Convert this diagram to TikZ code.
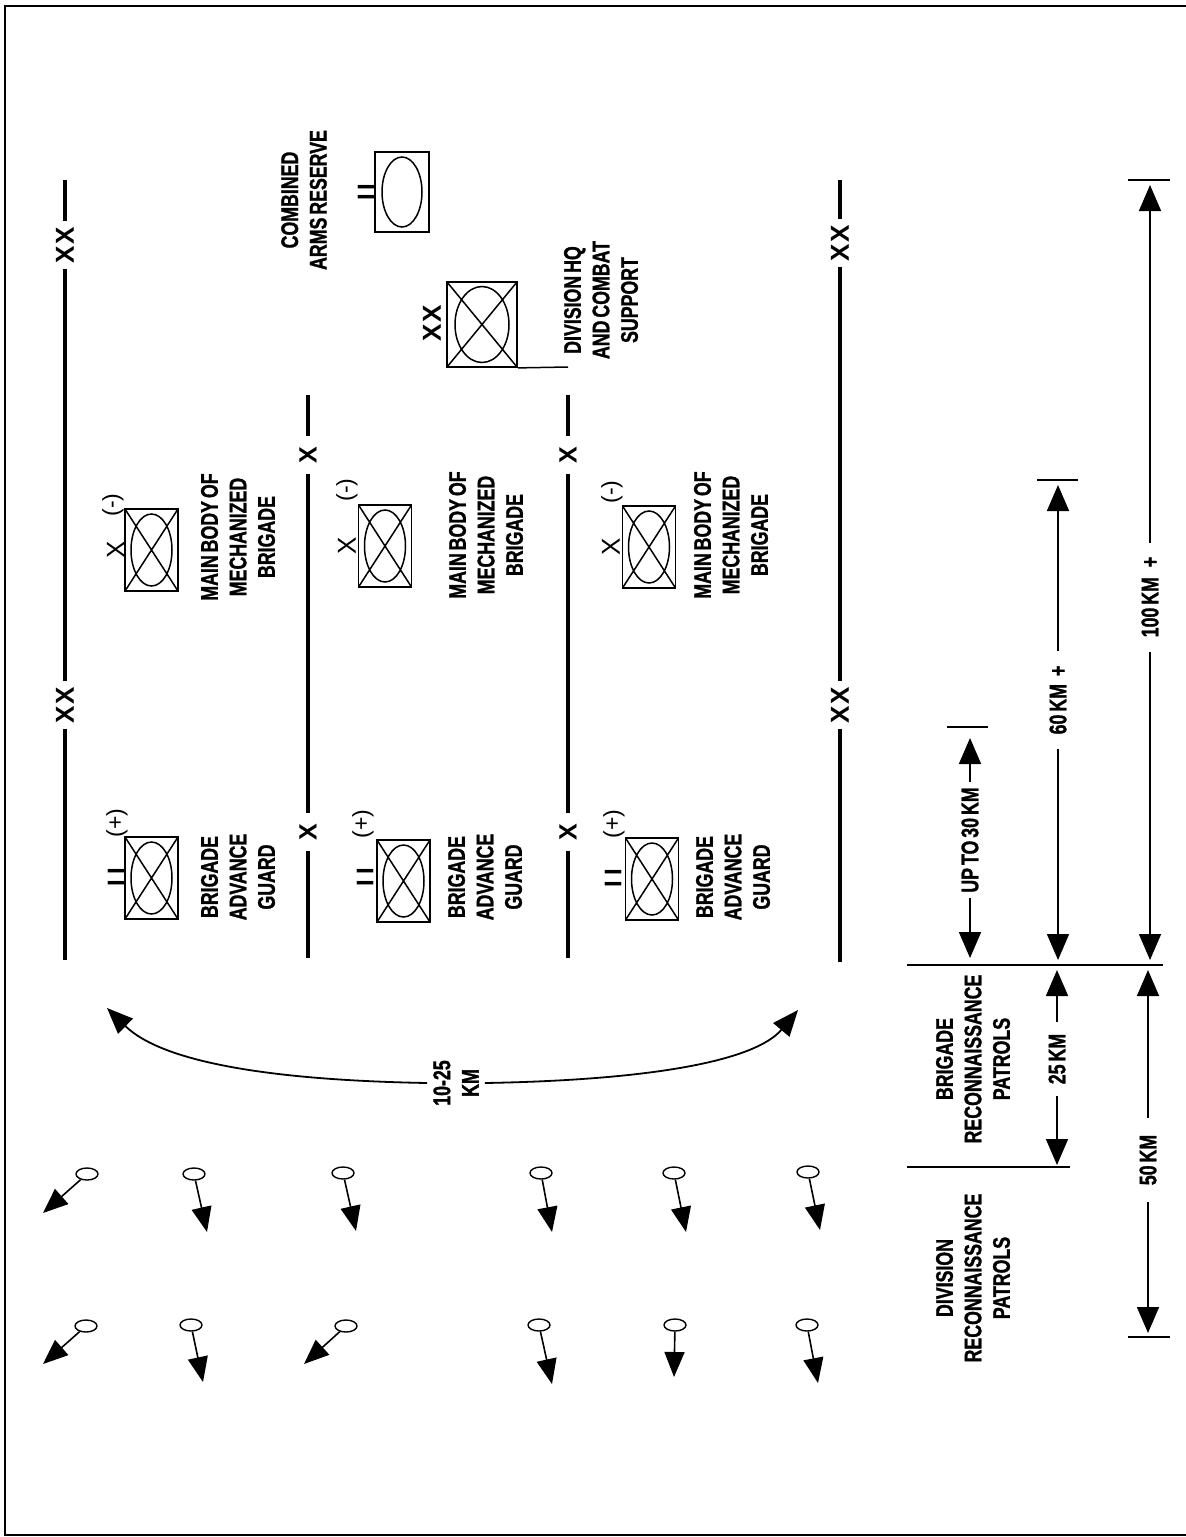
\documentclass[tikz,border=0pt]{standalone}
\usepackage{fontspec}
\setmainfont{Liberation Sans}
\newfontfamily\lbl[FakeStretch=0.74,WordSpace=0.6,FakeBold=1.2]{Liberation Sans}
\usetikzlibrary{arrows.meta,shapes.geometric}
\begin{document}
\begin{tikzpicture}[x=1pt,y=-1pt,
  lab/.style={font=\lbl\bfseries\fontsize{24}{28.5}\selectfont, align=center, rotate=90, inner sep=0pt},
  bnd/.style={font=\bfseries\fontsize{26}{26}\selectfont, rotate=90, inner sep=5pt},
  bndx/.style={font=\bfseries\fontsize{25}{25}\selectfont, rotate=90, inner sep=10pt},
  bline/.style={line width=3.2pt},
  ech/.style={font=\fontsize{26}{26}\selectfont, rotate=90, inner sep=0pt},
  echb/.style={font=\bfseries\fontsize{24}{24}\selectfont, rotate=90, inner sep=0pt},
  sgn/.style={font=\fontsize{23}{23}\selectfont, rotate=90, inner sep=0pt},
  mech/.style={draw, line width=1.8pt, minimum width=53pt, minimum height=82pt, inner sep=0pt,
    path picture={\draw[line width=1.5pt]
      (path picture bounding box.north west) -- (path picture bounding box.south east)
      (path picture bounding box.south west) -- (path picture bounding box.north east)
      (path picture bounding box.center) ellipse [x radius=20.5pt, y radius=36pt];}},
  hq/.style={draw, line width=1.8pt, minimum width=70pt, minimum height=85pt, inner sep=0pt,
    path picture={\draw[line width=1.5pt]
      (path picture bounding box.north west) -- (path picture bounding box.south east)
      (path picture bounding box.south west) -- (path picture bounding box.north east)
      (path picture bounding box.center) ellipse [x radius=27pt, y radius=38pt];}},
  res/.style={draw, line width=1.8pt, minimum width=54pt, minimum height=80pt, inner sep=0pt,
    path picture={\draw[line width=1.5pt]
      (path picture bounding box.center) ellipse [x radius=20pt, y radius=35pt];}},
  patrol/.style={draw, ellipse, line width=1.4pt, minimum width=22pt, minimum height=12pt, inner sep=0pt},
  patarrow/.style={line width=1.6pt, -{Triangle[length=25pt,width=20pt]}},
  bigarrow/.style={line width=1.8pt, -{Triangle[length=26pt,width=21pt]}},
  dimarrow/.style={line width=1.6pt, -{Triangle[length=26pt,width=22pt]}},
  tickline/.style={line width=2.4pt}
]
\useasboundingbox (0,0) rectangle (1186,1537);
\draw[line width=1.6pt] (1192,6) -- (5,6) -- (5,1535) -- (1192,1535);

% ---- division boundaries
\coordinate (dA0) at (65,180);
\node[bnd] (dA1) at (65,245) {X\kern2pt X};
\node[bnd] (dA2) at (65,705) {X\kern2pt X};
\coordinate (dA3) at (65,960);
\draw[bline] (dA0) -- (dA1) (dA1) -- (dA2) (dA2) -- (dA3);

\coordinate (dB0) at (840,180);
\node[bnd] (dB1) at (840,243) {X\kern2pt X};
\node[bnd] (dB2) at (840,705) {X\kern2pt X};
\coordinate (dB3) at (840,962);
\draw[bline] (dB0) -- (dB1) (dB1) -- (dB2) (dB2) -- (dB3);

% ---- brigade boundaries
\coordinate (bA0) at (308,395);
\node[bndx] (bA1) at (308,455) {X};
\node[bndx] (bA2) at (308,832) {X};
\coordinate (bA3) at (308,958);
\draw[bline] (bA0) -- (bA1) (bA1) -- (bA2) (bA2) -- (bA3);

\coordinate (bB0) at (568,395);
\node[bndx] (bB1) at (568,455) {X};
\node[bndx] (bB2) at (568,832) {X};
\coordinate (bB3) at (568,958);
\draw[bline] (bB0) -- (bB1) (bB1) -- (bB2) (bB2) -- (bB3);

% ---- combined arms reserve
\node[res] (car) at (402,192) {};
\node[echb] (care) at (366,192) {I\kern4pt I};
\node[lab] (carl) at (304,200) {COMBINED\\ARMS RESERVE};

% ---- division HQ
\node[hq] (dhq) at (482,324.5) {};
\node[echb, font=\bfseries\fontsize{26}{26}\selectfont] (dhqe) at (432,323) {X\kern2pt X};
\coordinate (dhqf) at (568,367);
\draw[line width=1.5pt] (dhq.south east) -- (dhqf);
\node[lab] (dhql) at (601,300) {DIVISION HQ\\AND COMBAT\\SUPPORT};

% ---- brigade 1
\node[mech] (mb1) at (151.5,550) {};
\node[ech] (mb1e) at (116,550) {X};
\node[sgn] (mb1s) at (113,505) {(-)};
\node[lab] (mb1l) at (238,537) {MAIN BODY OF\\MECHANIZED\\BRIGADE};
\node[mech] (ag1) at (151.5,878) {};
\node[echb] (ag1e) at (116,877) {I\kern5pt I};
\node[sgn] (ag1s) at (117,823) {(+)};
\node[lab] (ag1l) at (238,877) {BRIGADE\\ADVANCE\\GUARD};

% ---- brigade 2
\node[mech] (mb2) at (385,546) {};
\node[ech] (mb2e) at (347,546) {X};
\node[sgn] (mb2s) at (347,490) {(-)};
\node[lab] (mb2l) at (486,535) {MAIN BODY OF\\MECHANIZED\\BRIGADE};
\node[mech] (ag2) at (403.5,881) {};
\node[echb] (ag2e) at (365,877) {I\kern5pt I};
\node[sgn] (ag2s) at (363,824) {(+)};
\node[lab] (ag2l) at (485,877) {BRIGADE\\ADVANCE\\GUARD};

% ---- brigade 3
\node[mech] (mb3) at (649,547) {};
\node[ech] (mb3e) at (611,547) {X};
\node[sgn] (mb3s) at (612,492) {(-)};
\node[lab] (mb3l) at (731,535) {MAIN BODY OF\\MECHANIZED\\BRIGADE};
\node[mech] (ag3) at (652,879) {};
\node[echb] (ag3e) at (613,878) {I\kern5pt I};
\node[sgn] (ag3s) at (614,824) {(+)};
\node[lab] (ag3l) at (733,877) {BRIGADE\\ADVANCE\\GUARD};

% ---- frontage arrow
\node[lab, inner sep=6pt] (rng) at (456,1083) {10-25\\KM};
\coordinate (rngL) at (107,1008);
\coordinate (rngR) at (798,1010);
\draw[bigarrow] (rng.north) .. controls (260,1080) and (160,1060) .. (rngL);
\draw[bigarrow] (rng.south) .. controls (656,1080) and (756,1060) .. (rngR);

% ---- patrols
\foreach \n/\ex/\ey/\tx/\ty in {
  p1/87/1174/43/1213, p2/194/1174/207/1232, p3/343/1173/356/1231,
  p4/541/1173/552/1232, p5/674/1173/686/1232, p6/808/1172/820/1230,
  p7/86/1326/43/1364, p8/191/1325/203/1382, p9/346/1326/304/1364,
  p10/539/1325/552/1384, p11/675/1325/674/1377, p12/807/1325/818/1383}{
  \node[patrol] (\n) at (\ex,\ey) {};
  \coordinate (\n t) at (\tx,\ty);
  \draw[patarrow] (\n) -- (\n t);
}

% ---- scale lines
\coordinate (h1a) at (907,965); \coordinate (h1b) at (1163,965);
\coordinate (h2a) at (907,1167); \coordinate (h2b) at (1070,1167);
\coordinate (h3a) at (1128,1337); \coordinate (h3b) at (1170,1337);
\coordinate (h4a) at (1037,480); \coordinate (h4b) at (1078,480);
\coordinate (h5a) at (947,727); \coordinate (h5b) at (988,727);
\coordinate (h6a) at (1128,180); \coordinate (h6b) at (1170,180);
\draw[tickline] (h1a) -- (h1b);
\draw[tickline] (h2a) -- (h2b);
\draw[tickline] (h3a) -- (h3b);
\draw[tickline] (h4a) -- (h4b);
\draw[tickline] (h5a) -- (h5b);
\draw[tickline] (h6a) -- (h6b);

\node[lab] (brp) at (973,1059) {BRIGADE\\RECONNAISSANCE\\PATROLS};
\node[lab] (drp) at (973,1278) {DIVISION\\RECONNAISSANCE\\PATROLS};

% ---- dimension arrows
\node[lab, inner xsep=5pt] (d30) at (970,840) {UP TO 30 KM};
\coordinate (d30a) at (970,738); \coordinate (d30b) at (970,958);
\draw[dimarrow] (d30) -- (d30a); \draw[dimarrow] (d30) -- (d30b);

\node[lab, inner xsep=14pt] (d60) at (1058,700) {60 KM\hspace{8pt}+};
\coordinate (d60a) at (1058,485); \coordinate (d60b) at (1058,960);
\draw[dimarrow] (d60) -- (d60a); \draw[dimarrow] (d60) -- (d60b);

\node[lab, inner xsep=14pt] (d100) at (1150,597) {100 KM\hspace{10pt}+};
\coordinate (d100a) at (1150,185); \coordinate (d100b) at (1150,960);
\draw[dimarrow] (d100) -- (d100a); \draw[dimarrow] (d100) -- (d100b);

\node[lab, inner xsep=12pt] (d25) at (1057,1059) {25 KM};
\coordinate (d25a) at (1057,970); \coordinate (d25b) at (1057,1165);
\draw[dimarrow] (d25) -- (d25a); \draw[dimarrow] (d25) -- (d25b);

\node[lab, inner xsep=17pt] (d50) at (1148,1160) {50 KM};
\coordinate (d50a) at (1148,970); \coordinate (d50b) at (1148,1333);
\draw[dimarrow] (d50) -- (d50a); \draw[dimarrow] (d50) -- (d50b);
\end{tikzpicture}
\end{document}
